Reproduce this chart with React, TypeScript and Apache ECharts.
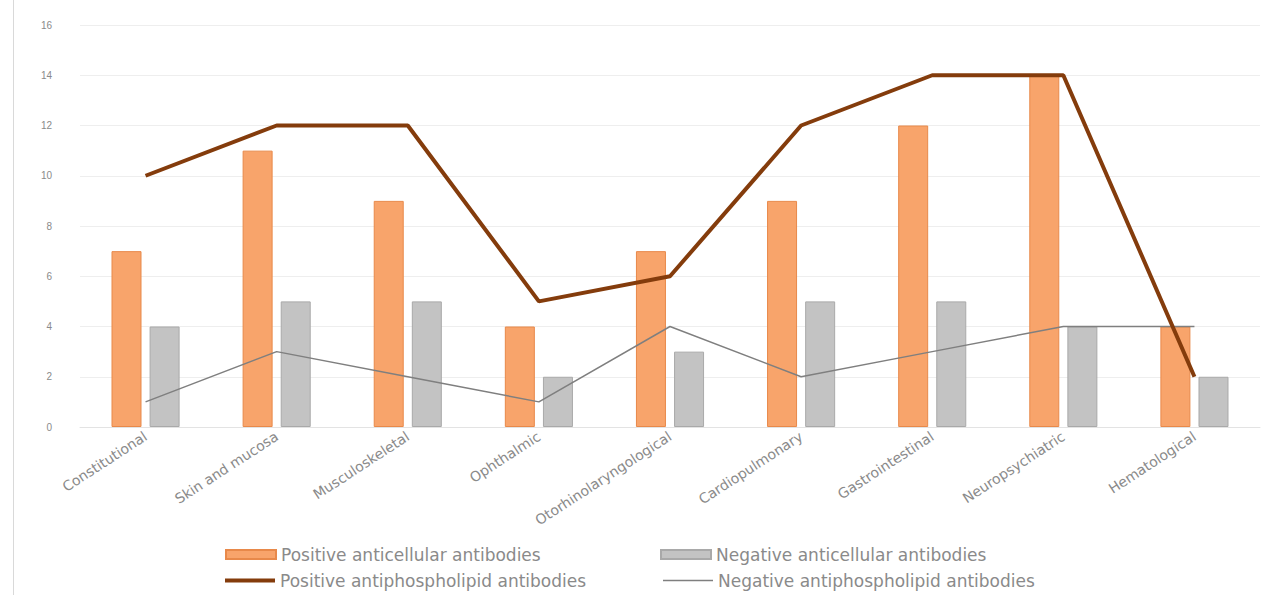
import React, { useEffect, useRef } from "react";
import * as echarts from "echarts";

const categories = [
  "Constitutional",
  "Skin and mucosa",
  "Musculoskeletal",
  "Ophthalmic",
  "Otorhinolaryngological",
  "Cardiopulmonary",
  "Gastrointestinal",
  "Neuropsychiatric",
  "Hematological",
];
const posAnticellular = [7, 11, 9, 4, 7, 9, 12, 14, 4];
const negAnticellular = [4, 5, 5, 2, 3, 5, 5, 4, 2];
const posAntiphospholipid = [10, 12, 12, 5, 6, 12, 14, 14, 2];
const negAntiphospholipid = [1, 3, 2, 1, 4, 2, 3, 4, 4];

const names = [
  "Positive anticellular antibodies",
  "Negative anticellular antibodies",
  "Positive antiphospholipid antibodies",
  "Negative antiphospholipid antibodies",
];

export default function App() {
  const ref = useRef<HTMLDivElement>(null);
  useEffect(() => {
    if (!ref.current) return;
    const chart = echarts.init(ref.current, null, { renderer: "svg" });
    const legendText = { color: "#8a8a8a", fontSize: 17, fontFamily: "DejaVu Sans" };
    const mkLegend = (name: string, left: number, top: number, icon: string, h: number) => ({
      data: [name],
      left,
      top,
      icon,
      itemWidth: 50,
      itemHeight: h,
      itemGap: 5,
      textStyle: legendText,
      selectedMode: false,
    });
    chart.setOption({
      animation: false,
      backgroundColor: "#ffffff",
      grid: { left: 80, right: 25, top: 25, bottom: 168 },
      legend: [
        mkLegend(names[0], 220, 541, "rect", 9),
        mkLegend(names[1], 655, 541, "rect", 9),
        mkLegend(names[2], 220, 567, "rect", 4),
        mkLegend(names[3], 658, 567, "rect", 1.5),
      ],
      graphic: [
        {
          type: "line",
          shape: { x1: 13.5, y1: 0, x2: 13.5, y2: 595 },
          style: { stroke: "#d9d9d9", lineWidth: 1 },
        },
      ],
      xAxis: {
        type: "category",
        data: categories,
        axisLine: { lineStyle: { color: "#e3e3e3" } },
        axisTick: { show: false },
        axisLabel: {
          rotate: 33,
          interval: 0,
          color: "#8a8a8a",
          fontSize: 14,
          fontFamily: "DejaVu Sans",
          margin: 8,
        },
      },
      yAxis: {
        type: "value",
        min: 0,
        max: 16,
        interval: 2,
        axisLine: { show: false },
        axisTick: { show: false },
        splitLine: { lineStyle: { color: "#eeeeee" } },
        axisLabel: { color: "#8a8a8a", fontSize: 10, fontFamily: "Liberation Sans", margin: 28 },
      },
      series: [
        {
          name: names[0],
          type: "bar",
          data: posAnticellular,
          barWidth: 30,
          barGap: "27%",
          itemStyle: { color: "#f8a46b", borderColor: "#e8894a", borderWidth: 1 },
        },
        {
          name: names[1],
          type: "bar",
          data: negAnticellular,
          barWidth: 30,
          itemStyle: { color: "#c3c3c3", borderColor: "#a9a9a9", borderWidth: 1 },
        },
        {
          name: names[3],
          type: "line",
          data: negAntiphospholipid,
          symbol: "none",
          lineStyle: { color: "#7f7f7f", width: 1.5 },
          itemStyle: { color: "#7f7f7f" },
        },
        {
          name: names[2],
          type: "line",
          data: posAntiphospholipid,
          symbol: "none",
          lineStyle: { color: "#843c0c", width: 4 },
          itemStyle: { color: "#843c0c" },
        },
      ],
    });
    return () => chart.dispose();
  }, []);
  return (
    <div
      ref={ref}
      style={{ position: "fixed", left: 0, top: 0, width: 1285, height: 595 }}
    />
  );
}
